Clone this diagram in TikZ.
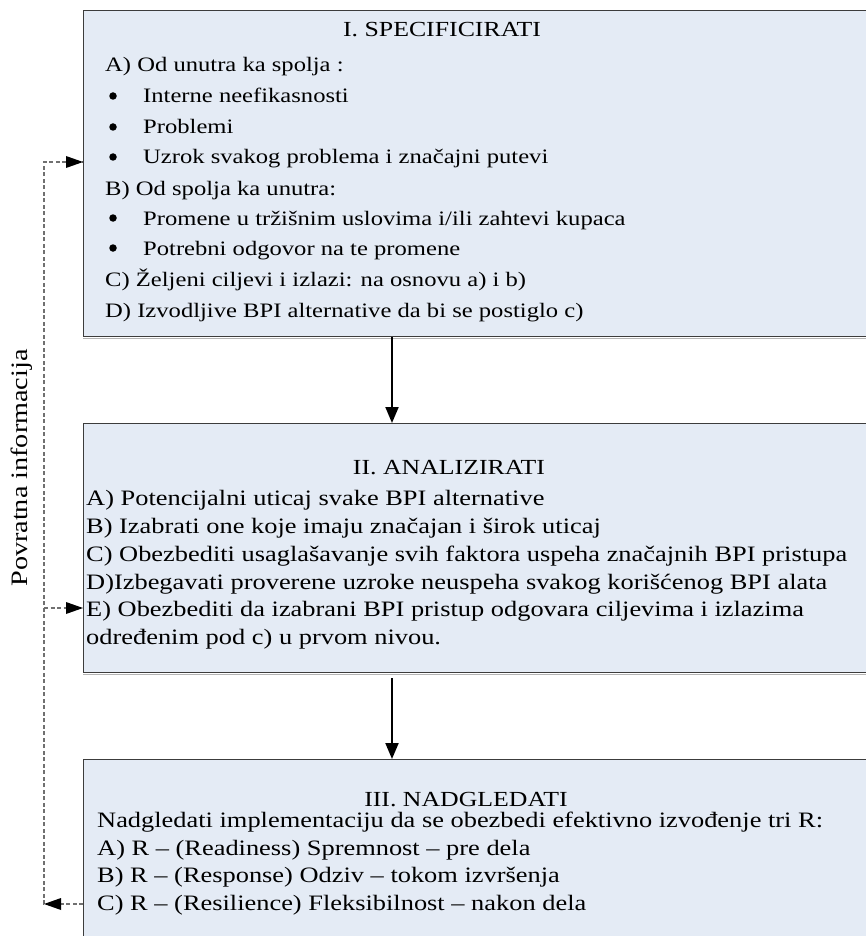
\documentclass[tikz,border=0pt]{standalone}
\usepackage{fontspec}
\setmainfont{Liberation Serif}[FakeStretch=1.2]
\usetikzlibrary{arrows.meta}
\definecolor{boxfill}{HTML}{E4EBF5}
\definecolor{boxline}{HTML}{3C3C3C}
\definecolor{boxshade}{HTML}{B4B4B4}
\definecolor{fbline}{HTML}{707070}
\tikzset{
  panel/.style={draw=boxline, line width=1.4pt, fill=boxfill, minimum width=800pt,
    anchor=north west, inner sep=0pt},
  shade line/.style={draw=boxshade, line width=1pt},
  txtone/.style={anchor=base west, inner sep=0pt, font=\fontsize{20.5}{24}\selectfont},
  txt/.style={anchor=base west, inner sep=0pt, font=\fontsize{22}{24}\selectfont},
  ttl/.style={anchor=base, inner sep=0pt, font=\fontsize{21.5}{24}\selectfont},
  bul/.style={circle, fill=black, inner sep=0pt, minimum size=7.5pt},
  flow/.style={line width=2pt, -{Triangle[length=16pt,width=13pt]}},
  feedback/.style={draw=fbline, line width=1.3pt, dash pattern=on 4pt off 2.5pt}
}
\begin{document}
\begin{tikzpicture}[x=1pt, y=-1pt]
\useasboundingbox (0,0) rectangle (866,936);
\clip (0,0) rectangle (866,936);

% three stage panels, each with a faint line hugging its lower edge
\node[panel, minimum height=326pt] (s1) at (83,10) {};
\node[panel, minimum height=249pt] (s2) at (83,423) {};
\node[panel, minimum height=200pt] (s3) at (83,759) {};
\draw[shade line] ([yshift=-1.2pt]s1.south west) -- ([yshift=-1.2pt]s1.south east);
\draw[shade line] ([yshift=-1.2pt]s2.south west) -- ([yshift=-1.2pt]s2.south east);

% stage I
\node[ttl] (t1) at (442,37) {I. SPECIFICIRATI};
\node[txtone] (a1) at (105,72) {A) Od unutra ka spolja :};
\node[bul] (p1) at (113,96) {};
\node[txtone] (a2) at (143,103) {Interne neefikasnosti};
\node[bul] (p2) at (113,127) {};
\node[txtone] (a3) at (143,134) {Problemi};
\node[bul] (p3) at (113,157) {};
\node[txtone] (a4) at (143,164) {Uzrok svakog problema i značajni putevi};
\node[txtone] (a5) at (105,195) {B) Od spolja ka unutra:};
\node[bul] (p4) at (113,218) {};
\node[txtone] (a6) at (143,225) {Promene u tržišnim uslovima i/ili zahtevi kupaca};
\node[bul] (p5) at (113,248) {};
\node[txtone] (a7) at (143,255) {Potrebni odgovor na te promene};
\node[txtone] (a8) at (105,286) {C) Željeni ciljevi i izlazi: na osnovu a) i b)};
\node[txtone] (a9) at (105,317) {D) Izvodljive BPI alternative da bi se postiglo c)};

% stage II
\node[ttl] (t2) at (449,474) {II. ANALIZIRATI};
\node[txt] (b1) at (86,505) {A) Potencijalni uticaj svake BPI alternative};
\node[txt] (b2) at (86,533) {B) Izabrati one koje imaju značajan i širok uticaj};
\node[txt] (b3) at (86,561) {C) Obezbediti usaglašavanje svih faktora uspeha značajnih BPI pristupa};
\node[txt] (b4) at (86,589) {D)Izbegavati proverene uzroke neuspeha svakog korišćenog BPI alata};
\node[txt] (b5) at (86,616) {E) Obezbediti da izabrani BPI pristup odgovara ciljevima i izlazima};
\node[txt] (b6) at (86,644) {određenim pod c) u prvom nivou.};

% stage III
\node[ttl] (t3) at (466,806) {III. NADGLEDATI};
\node[txt] (c1) at (97,827) {Nadgledati implementaciju da se obezbedi efektivno izvođenje tri R:};
\node[txt] (c2) at (97,855) {A) R -- (Readiness) Spremnost -- pre dela};
\node[txt] (c3) at (97,882) {B) R -- (Response) Odziv -- tokom izvršenja};
\node[txt] (c4) at (97,910) {C) R -- (Resilience) Fleksibilnost -- nakon dela};

% main flow between the stages
\coordinate (o2) at (392,678);
\draw[flow] (s1.south -| o2) -- (s2.north -| o2);
\draw[flow] (o2) -- (s3.north -| o2);

% feedback loop on the left
\coordinate (fb) at (44,904);
\coordinate (f1) at (44,162);
\coordinate (f2) at (44,608);
\draw[feedback] (s3.west |- fb) -- (fb) -- (f1) -- (s1.west |- f1);
\draw[feedback] (f2) -- (s2.west |- f2);
\fill[black] (fb) -- ++(17,-6) -- ++(0,12) -- cycle;
\fill[black] (s1.west |- f1) -- ++(-17,-6) -- ++(0,12) -- cycle;
\fill[black] (s2.west |- f2) -- ++(-17,-6) -- ++(0,12) -- cycle;
\node[rotate=90, inner sep=0pt, font=\fontsize{23.5}{26}\selectfont] (lbl) at (22,468) {Povratna informacija};
\end{tikzpicture}
\end{document}
